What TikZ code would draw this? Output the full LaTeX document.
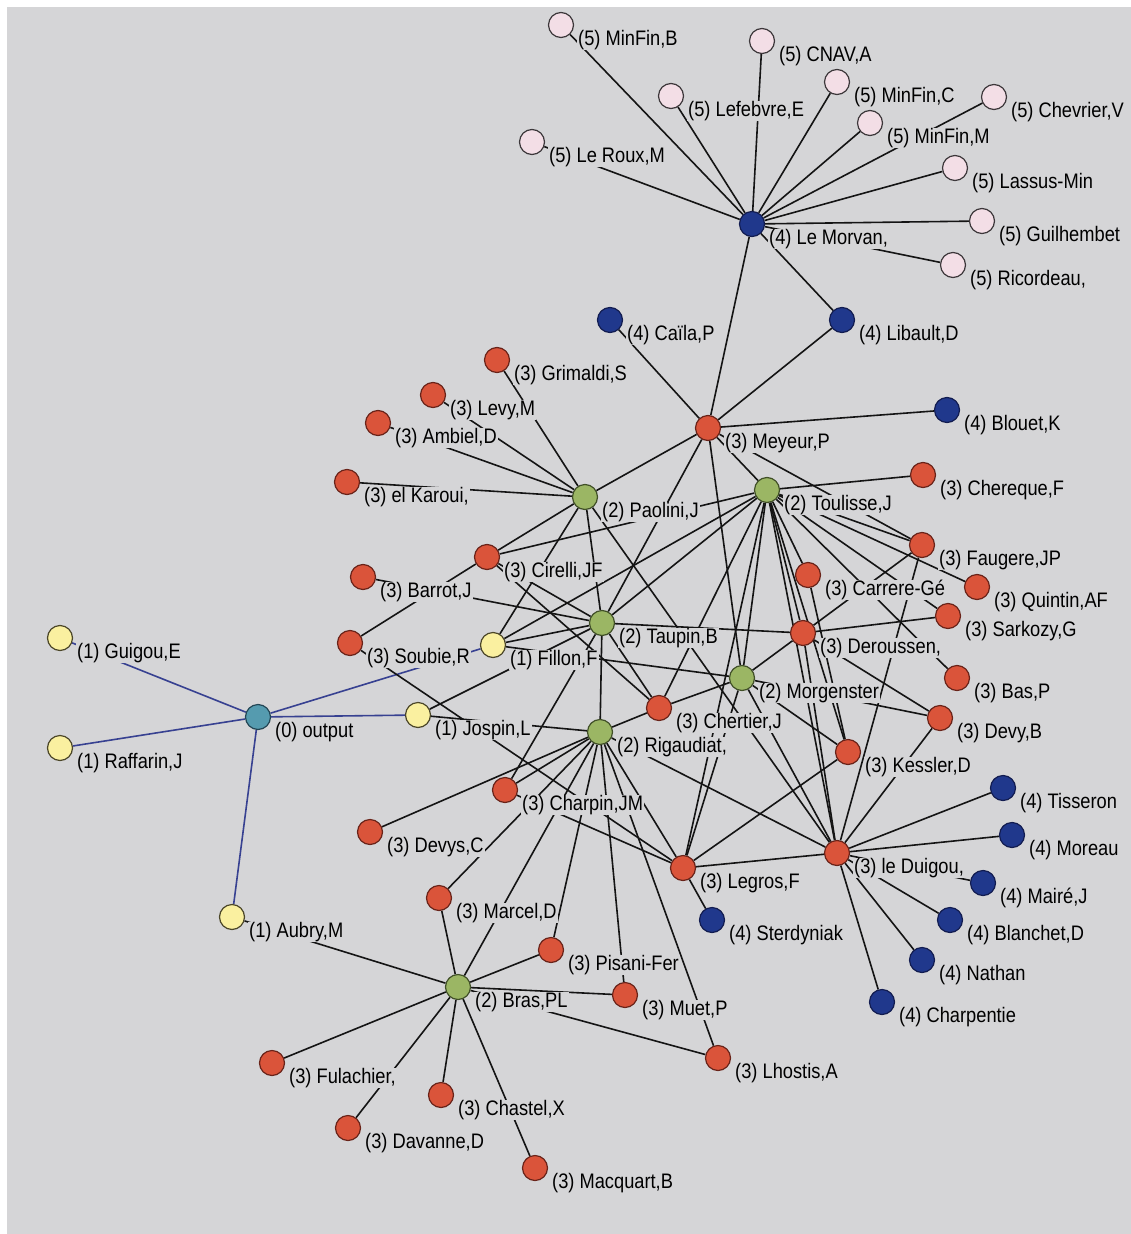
\documentclass[tikz,border=0pt]{standalone}
\usepackage{fontspec}
\setmainfont[FakeStretch=0.87]{Liberation Sans}
\pgfdeclarelayer{bglayer}
\pgfdeclarelayer{edgelayer}
\pgfdeclarelayer{labellayer}
\pgfsetlayers{bglayer,edgelayer,labellayer,main}
\definecolor{bggray}{RGB}{213,213,215}
\definecolor{pinkc}{RGB}{243,222,230}
\definecolor{pinkd}{RGB}{60,55,58}
\definecolor{bluec}{RGB}{32,56,140}
\definecolor{blued}{RGB}{18,28,80}
\definecolor{redc}{RGB}{218,84,58}
\definecolor{redd}{RGB}{105,35,25}
\definecolor{greenc}{RGB}{155,182,100}
\definecolor{greend}{RGB}{65,80,40}
\definecolor{yellowc}{RGB}{250,240,160}
\definecolor{yellowd}{RGB}{75,70,40}
\definecolor{tealc}{RGB}{85,155,175}
\definecolor{teald}{RGB}{35,70,85}
\definecolor{edgek}{RGB}{20,20,20}
\definecolor{edgeb}{RGB}{55,65,145}
\tikzset{
  vtx/.style={circle, minimum size=25pt, inner sep=0pt, line width=1.2pt},
  lv0/.style={vtx, fill=tealc, draw=teald},
  lv1/.style={vtx, fill=yellowc, draw=yellowd},
  lv2/.style={vtx, fill=greenc, draw=greend},
  lv3/.style={vtx, fill=redc, draw=redd},
  lv4/.style={vtx, fill=bluec, draw=blued},
  lv5/.style={vtx, fill=pinkc, draw=pinkd},
  lbl/.style={fill=bggray, inner xsep=1pt, inner ysep=0pt, anchor=west, text=black, font=\fontsize{21}{22}\selectfont},
  lnk/.style={draw=edgek, line width=1.6pt},
  blnk/.style={draw=edgeb, line width=1.6pt}
}
\newcommand\vtxn[5]{\node[#4] (#1) at (#2,#3) {};%
  \begin{pgfonlayer}{labellayer}\node[lbl] (#1l) at (#2+16,#3+15) {#5};\end{pgfonlayer}}
\begin{document}
\begin{tikzpicture}[x=1pt,y=-1pt]
\useasboundingbox (0,0) rectangle (1131,1234);
\begin{pgfonlayer}{bglayer}
\fill[white] (0,0) rectangle (1131,1234);
\fill[bggray] (7,7) rectangle (1131,1234);
\end{pgfonlayer}
% level 5
\vtxn{minfinb}{561}{25}{lv5}{(5) MinFin,B}
\vtxn{cnava}{762}{41}{lv5}{(5) CNAV,A}
\vtxn{lefebvre}{671}{96}{lv5}{(5) Lefebvre,E}
\vtxn{minfinc}{837}{82}{lv5}{(5) MinFin,C}
\vtxn{chevrier}{994}{97}{lv5}{(5) Chevrier,V}
\vtxn{minfinm}{870}{123}{lv5}{(5) MinFin,M}
\vtxn{leroux}{532}{142}{lv5}{(5) Le Roux,M}
\vtxn{lassus}{955}{168}{lv5}{(5) Lassus-Min}
\vtxn{guilhembet}{982}{221}{lv5}{(5) Guilhembet}
\vtxn{ricordeau}{953}{265}{lv5}{(5) Ricordeau,}
% level 4
\vtxn{lemorvan}{752}{224}{lv4}{(4) Le Morvan,}
\vtxn{caila}{610}{320}{lv4}{(4) Caïla,P}
\vtxn{libault}{842}{320}{lv4}{(4) Libault,D}
\vtxn{blouet}{947}{410}{lv4}{(4) Blouet,K}
\vtxn{tisseron}{1003}{788}{lv4}{(4) Tisseron}
\vtxn{moreau}{1012}{835}{lv4}{(4) Moreau}
\vtxn{maire}{983}{883}{lv4}{(4) Mairé,J}
\vtxn{blanchet}{950}{920}{lv4}{(4) Blanchet,D}
\vtxn{nathan}{922}{960}{lv4}{(4) Nathan}
\vtxn{charpentie}{882}{1002}{lv4}{(4) Charpentie}
\vtxn{sterdyniak}{712}{920}{lv4}{(4) Sterdyniak}
% level 3
\vtxn{grimaldi}{497}{360}{lv3}{(3) Grimaldi,S}
\vtxn{levy}{433}{395}{lv3}{(3) Levy,M}
\vtxn{ambiel}{378}{423}{lv3}{(3) Ambiel,D}
\vtxn{elkaroui}{347}{482}{lv3}{(3) el Karoui,}
\vtxn{meyeur}{708}{428}{lv3}{(3) Meyeur,P}
\vtxn{chereque}{923}{475}{lv3}{(3) Chereque,F}
\vtxn{faugere}{922}{545}{lv3}{(3) Faugere,JP}
\vtxn{quintin}{977}{587}{lv3}{(3) Quintin,AF}
\vtxn{carrere}{808}{575}{lv3}{(3) Carrere-Gé}
\vtxn{sarkozy}{948}{616}{lv3}{(3) Sarkozy,G}
\vtxn{deroussen}{803}{633}{lv3}{(3) Deroussen,}
\vtxn{bas}{957}{678}{lv3}{(3) Bas,P}
\vtxn{devy}{940}{718}{lv3}{(3) Devy,B}
\vtxn{kessler}{848}{752}{lv3}{(3) Kessler,D}
\vtxn{cirelli}{487}{557}{lv3}{(3) Cirelli,JF}
\vtxn{barrot}{363}{577}{lv3}{(3) Barrot,J}
\vtxn{soubie}{350}{643}{lv3}{(3) Soubie,R}
\vtxn{chertier}{659}{708}{lv3}{(3) Chertier,J}
\vtxn{charpin}{505}{790}{lv3}{(3) Charpin,JM}
\vtxn{devys}{370}{832}{lv3}{(3) Devys,C}
\vtxn{legros}{683}{868}{lv3}{(3) Legros,F}
\vtxn{leduigou}{837}{853}{lv3}{(3) le Duigou,}
\vtxn{marcel}{439}{898}{lv3}{(3) Marcel,D}
\vtxn{pisani}{551}{950}{lv3}{(3) Pisani-Fer}
\vtxn{muet}{625}{995}{lv3}{(3) Muet,P}
\vtxn{lhostis}{718}{1058}{lv3}{(3) Lhostis,A}
\vtxn{fulachier}{272}{1063}{lv3}{(3) Fulachier,}
\vtxn{chastel}{441}{1095}{lv3}{(3) Chastel,X}
\vtxn{davanne}{348}{1128}{lv3}{(3) Davanne,D}
\vtxn{macquart}{535}{1168}{lv3}{(3) Macquart,B}
% level 2
\vtxn{paolini}{585}{497}{lv2}{(2) Paolini,J}
\vtxn{toulisse}{767}{490}{lv2}{(2) Toulisse,J}
\vtxn{taupin}{602}{623}{lv2}{(2) Taupin,B}
\vtxn{morgen}{742}{678}{lv2}{(2) Morgenster}
\vtxn{rigaudiat}{600}{732}{lv2}{(2) Rigaudiat,}
\vtxn{bras}{458}{987}{lv2}{(2) Bras,PL}
% level 1
\vtxn{guigou}{60}{638}{lv1}{(1) Guigou,E}
\vtxn{raffarin}{60}{748}{lv1}{(1) Raffarin,J}
\vtxn{aubry}{232}{917}{lv1}{(1) Aubry,M}
\vtxn{jospin}{418}{715}{lv1}{(1) Jospin,L}
\vtxn{fillon}{493}{645}{lv1}{(1) Fillon,F}
% level 0
\vtxn{output}{258}{717}{lv0}{(0) output}
\begin{pgfonlayer}{edgelayer}
\foreach \a/\b in {output/guigou,output/raffarin,output/aubry,output/jospin,output/fillon}
  \draw[blnk] (\a) -- (\b);
\foreach \a/\b in {lemorvan/minfinb,lemorvan/cnava,lemorvan/lefebvre,lemorvan/minfinc,lemorvan/chevrier,
  lemorvan/minfinm,lemorvan/leroux,lemorvan/lassus,lemorvan/guilhembet,lemorvan/ricordeau,
  lemorvan/meyeur,lemorvan/libault,
  meyeur/libault,meyeur/caila,meyeur/blouet,meyeur/paolini,meyeur/toulisse,meyeur/faugere,meyeur/taupin,meyeur/morgen,
  paolini/grimaldi,paolini/levy,paolini/ambiel,paolini/elkaroui,paolini/cirelli,paolini/fillon,paolini/taupin,paolini/leduigou,
  toulisse/chereque,toulisse/faugere,toulisse/quintin,toulisse/sarkozy,toulisse/bas,toulisse/carrere,toulisse/deroussen,
  toulisse/kessler,toulisse/leduigou,toulisse/legros,toulisse/morgen,toulisse/chertier,toulisse/taupin,toulisse/cirelli,toulisse/fillon,
  cirelli/soubie,cirelli/taupin,cirelli/chertier,barrot/taupin,
  taupin/fillon,taupin/rigaudiat,taupin/deroussen,taupin/chertier,taupin/jospin,taupin/charpin,
  deroussen/sarkozy,deroussen/morgen,deroussen/faugere,deroussen/devy,deroussen/leduigou,faugere/leduigou,
  morgen/fillon,morgen/chertier,morgen/devy,morgen/kessler,morgen/legros,morgen/leduigou,
  chertier/rigaudiat,
  rigaudiat/jospin,rigaudiat/charpin,rigaudiat/devys,rigaudiat/marcel,rigaudiat/bras,rigaudiat/pisani,rigaudiat/muet,
  rigaudiat/lhostis,rigaudiat/legros,rigaudiat/leduigou,
  charpin/legros,soubie/legros,legros/sterdyniak,legros/kessler,legros/leduigou,carrere/kessler,devy/leduigou,
  leduigou/tisseron,leduigou/moreau,leduigou/maire,leduigou/blanchet,leduigou/nathan,leduigou/charpentie,
  bras/aubry,bras/marcel,bras/pisani,bras/muet,bras/lhostis,bras/fulachier,bras/davanne,bras/chastel,bras/macquart}
  \draw[lnk] (\a) -- (\b);
\end{pgfonlayer}
\end{tikzpicture}
\end{document}
